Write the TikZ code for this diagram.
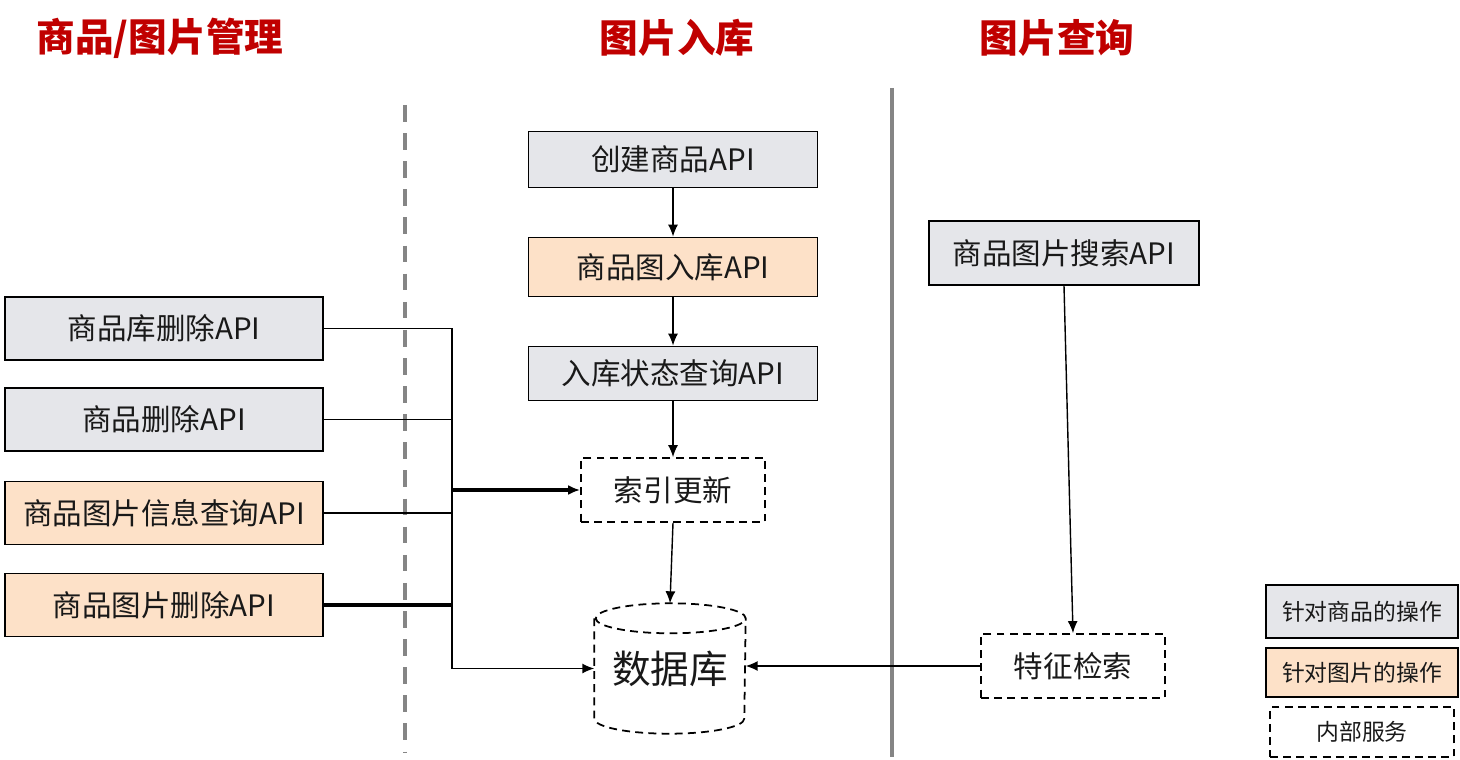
\documentclass[tikz,border=0pt]{standalone}
\usepackage{fontspec}
\newfontfamily\cjk{Noto Sans CJK SC}
\usetikzlibrary{arrows.meta,positioning}
\definecolor{goodsgray}{HTML}{E5E6EA}
\definecolor{imgorange}{HTML}{FDE1C8}
\definecolor{titlered}{HTML}{C00000}
\definecolor{sepgray}{HTML}{858585}

\begin{document}
\begin{tikzpicture}[x=0.02cm,y=-0.02cm,>={Latex[length=2.4mm,width=2mm]},line width=0.8pt,
  every node/.style={font=\cjk\fontsize{16.8}{20}\selectfont,text=black!90}]
\tikzstyle{goods}=[draw, fill=goodsgray, line width=1pt, minimum height=1.26cm]
\tikzstyle{img}=[draw, fill=imgorange, line width=1pt, minimum height=1.26cm]
\tikzstyle{inner}=[draw, dash pattern=on 4.5pt off 3pt, line width=1pt, minimum width=3.68cm, minimum height=1.28cm]
\tikzstyle{title}=[font=\cjk\bfseries\fontsize{22}{26}\selectfont, text=titlered]
\tikzstyle{legend}=[minimum width=3.84cm, minimum height=1cm, font=\cjk\fontsize{13}{15}\selectfont]
\useasboundingbox (0,0) rectangle (1460,760);
% titles
\node[title] (tmanage) at (160,38) {商品/图片管理};
\node[title] (tstore) at (677,38) {图片入库};
\node[title] (tquery) at (1057,38) {图片查询};
% separators
\draw[sepgray, line width=2pt, dash pattern=on 9.5pt off 6.5pt] (405,105) -- (405,752);
\draw[sepgray, line width=2pt] (892,88) -- (892,757);
% left column
\node[goods, minimum width=6.36cm] (libdel) at (164,328.5) {商品库删除API};
\node[goods, minimum width=6.36cm] (gooddel) at (164,419.5) {商品删除API};
\node[img, minimum width=6.36cm] (imginfo) at (164,513) {商品图片信息查询API};
\node[img, minimum width=6.36cm] (imgdel) at (164,605) {商品图片删除API};
% middle column
\node[goods, minimum width=5.78cm, minimum height=1.12cm] (create) at (673,159.5) {创建商品API};
\node[img, minimum width=5.78cm, minimum height=1.18cm] (store) at (673,267) {商品图入库API};
\node[goods, minimum width=5.78cm, minimum height=1.08cm] (status) at (673,373.5) {入库状态查询API};
\node[inner] (idx) at (673,490) {索引更新};
\node[minimum width=3cm, minimum height=2.58cm, font=\cjk\fontsize{22}{26}\selectfont] (db) at (670,668.5) {\raisebox{-3pt}{数据库}};
\draw[dash pattern=on 4.5pt off 3pt, line width=1pt]
  ([yshift=-0.3cm]db.north west) -- ([yshift=0.3cm]db.south west)
  arc[start angle=180, end angle=360, x radius=1.5cm, y radius=0.3cm]
  -- ([yshift=-0.3cm]db.north east)
  arc[start angle=0, end angle=360, x radius=1.5cm, y radius=0.3cm];
% right column
\node[goods, minimum width=5.4cm, minimum height=1.28cm] (search) at (1064,253) {商品图片搜索API};
\node[inner] (feat) at (1073,666) {特征检索};
% legend
\node[legend, goods, minimum height=1.06cm] (lgoods) at (1362,611.5) {针对商品的操作};
\node[legend, img, minimum height=0.98cm] (limg) at (1362,672.5) {针对图片的操作};
\node[legend, inner, minimum height=1cm] (linner) at (1362,732) {内部服务};
% connectors
\coordinate (bus) at (452,490);
\draw (libdel.east) -- (libdel.east -| bus) -- (imgdel.east -| bus);
\draw (gooddel.east) -- (gooddel.east -| bus);
\draw (imginfo.east) -- (imginfo.east -| bus);
\draw[line width=2pt] (imgdel.east) -- (imgdel.east -| bus);
\draw[->, line width=2pt] (bus) -- (idx.west);
\draw[->] (imgdel.east -| bus) |- (db.west);
\draw[->] (create) -- (store);
\draw[->] (store) -- (status);
\draw[->] (status) -- (idx);
\draw[->] (idx.south) -- (db.north);
\draw[->] (search.south) -- (feat.north);
\draw[->] (feat.west) -- (feat.west -| db.east);
\end{tikzpicture}
\end{document}
